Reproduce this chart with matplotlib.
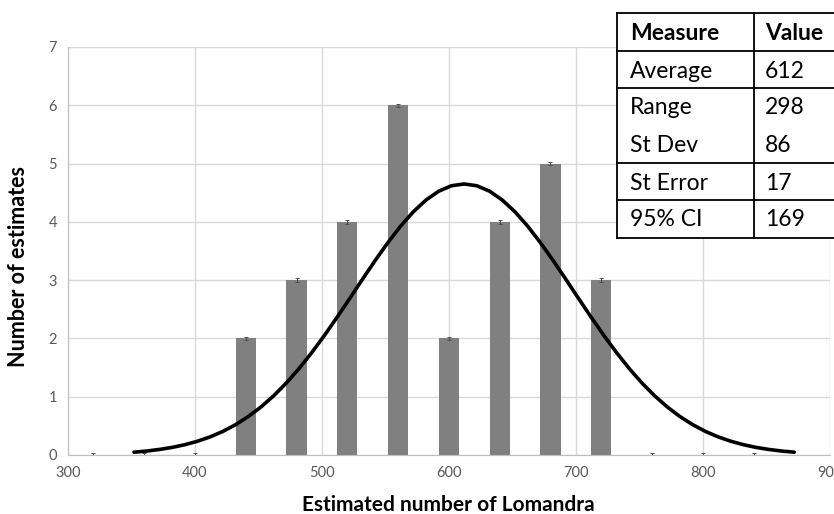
import numpy as np
import matplotlib.pyplot as plt
from matplotlib.lines import Line2D

#------------------------------------------------------------------------------------------
# Histogram of the estimates with the fitted normal curve and a summary table.
#------------------------------------------------------------------------------------------

binCentres = [320, 360, 400, 440, 480, 520, 560, 600, 640, 680, 720, 760, 800, 840]
binCounts = [0, 0, 0, 2, 3, 4, 6, 2, 4, 5, 3, 0, 0, 0]

# fitted curve, every 10 units (it is symmetric about 612)
curveX = list(range(352, 873, 10))
curveHalf = [0.048, 0.068, 0.095, 0.130, 0.176, 0.236, 0.311, 0.405, 0.520, 0.659,
             0.824, 1.016, 1.236, 1.483, 1.757, 2.052, 2.365, 2.689, 3.017, 3.339,
             3.645, 3.927, 4.173, 4.375, 4.526, 4.619, 4.650]
curveY = curveHalf + curveHalf[-2::-1]

tableMeasures = ['Average', 'Range', 'St Dev', 'St Error', '95% CI']
tableValues = ['612', '298', '86', '17', '169']

plt.rcParams['font.family'] = ['Lato', 'DejaVu Sans']

fig = plt.figure(figsize=(8.34, 5.14), dpi=100)
ax = fig.add_axes([0.0815, 0.1148, 0.9135, 0.7938])

ax.bar(binCentres, binCounts, width=16, color='#808080', zorder=2)
ax.errorbar(binCentres, binCounts, yerr=0.03, fmt='none', ecolor='#505050',
            elinewidth=0.7, capsize=1.5, capthick=0.7, zorder=3)
ax.plot(curveX, curveY, color='black', linewidth=2.6, solid_capstyle='round', zorder=4)

ax.set_xlim(300, 900)
ax.set_ylim(0, 7)
ax.set_xticks(range(300, 901, 100))
ax.set_yticks(range(0, 8))
ax.grid(True, color='#d9d9d9', linewidth=1)
ax.set_axisbelow(True)
for side in ['top', 'right']:
    ax.spines[side].set_visible(False)
for side in ['left', 'bottom']:
    ax.spines[side].set_color('#bfbfbf')
ax.tick_params(length=0, labelsize=10.5, colors='#595959', pad=8)

ax.set_xlabel('Estimated number of Lomandra', fontsize=15, fontweight='bold')
ax.set_ylabel('Number of estimates', fontsize=15.5, fontweight='bold')
ax.xaxis.set_label_coords(0.499, -0.098)
ax.yaxis.set_label_coords(-0.051, 0.463)

# summary table, drawn in pixel coordinates on top of everything
over = fig.add_axes([0, 0, 1, 1], zorder=10)
over.set_xlim(0, 834)
over.set_ylim(514, 0)
over.axis('off')
over.fill_between([617, 834], 13, 238, color='white', zorder=1)
for y in [13, 51, 88, 163, 200, 238]:
    over.add_line(Line2D([617, 834], [y, y], color='black', linewidth=1.3, zorder=2))
for x in [617, 754]:
    over.add_line(Line2D([x, x], [13, 238], color='black', linewidth=1.3, zorder=2))

over.text(630, 33, 'Measure', fontsize=16.5, fontweight='bold', va='center', zorder=3)
over.text(765, 33, 'Value', fontsize=16.5, fontweight='bold', va='center', zorder=3)
rowCentres = [71, 108, 146, 183, 220]
for yc, name, val in zip(rowCentres, tableMeasures, tableValues):
    over.text(630, yc, name, fontsize=16.5, va='center', zorder=3)
    over.text(765, yc, val, fontsize=16.5, va='center', zorder=3)

plt.savefig('out.png', dpi=100)
